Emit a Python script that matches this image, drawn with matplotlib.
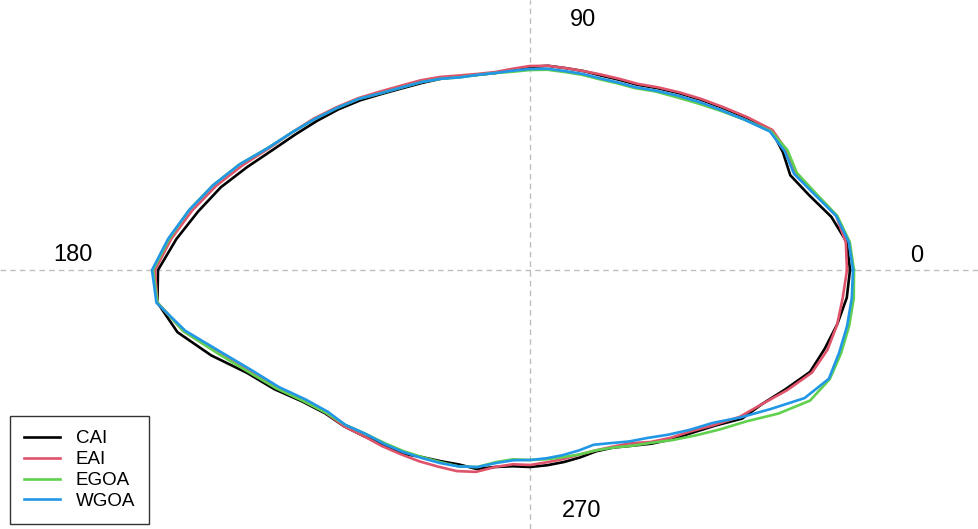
import numpy as np
import matplotlib.pyplot as plt

# mean otolith outlines: radius at every 5 degrees
angles = np.arange(0, 360, 5)

cai = [320, 318, 306, 289, 277, 279, 279, 265, 252, 241, 231, 222, 214, 210, 207, 206, 205, 205,
       203, 201, 200, 202, 206, 211, 216, 222, 230, 240, 250, 260, 271, 284, 301, 320, 337, 355,
       372, 374, 358, 330, 301, 282, 263, 250, 243, 235, 228, 224, 216, 211, 207, 206, 200, 197,
       197, 196, 195, 194, 193, 196, 203, 212, 221, 230, 242, 259, 268, 282, 298, 305, 312, 318]
eai = [317, 317, 311, 295, 283, 283, 280, 266, 253, 242, 232, 223, 215, 211, 208, 206, 205, 205,
       204, 202, 201, 203, 207, 213, 219, 225, 233, 243, 253, 264, 275, 288, 306, 325, 343, 360,
       375, 374, 352, 322, 298, 279, 261, 249, 243, 235, 230, 225, 221, 217, 214, 209, 200, 195,
       195, 193, 192, 191, 192, 195, 200, 210, 219, 228, 241, 256, 268, 284, 300, 308, 312, 314]
egoa = [324, 321, 312, 296, 284, 284, 278, 262, 248, 236, 226, 218, 210, 206, 203, 202, 201, 201,
        200, 199, 200, 202, 205, 211, 217, 223, 231, 242, 252, 263, 275, 289, 309, 328, 346, 362,
        377, 374, 352, 323, 299, 280, 262, 249, 241, 232, 226, 221, 216, 212, 209, 204, 195, 190,
        190, 190, 190, 191, 192, 196, 203, 211, 222, 234, 248, 264, 287, 309, 319, 322, 324, 325]
wgoa = [323, 320, 311, 294, 281, 281, 277, 262, 249, 238, 228, 219, 211, 207, 204, 203, 202, 202,
        201, 200, 200, 202, 205, 211, 217, 223, 231, 242, 252, 263, 275, 289, 309, 328, 346, 363,
        378, 375, 350, 319, 295, 277, 259, 247, 241, 232, 227, 222, 217, 213, 209, 204, 196, 191,
        190, 189, 188, 187, 186, 191, 198, 205, 215, 226, 238, 257, 278, 303, 318, 320, 322, 323]

names = ["CAI", "EAI", "EGOA", "WGOA"]
colors = ["#000000", "#DF536B", "#61D04F", "#2297E6"]

fig = plt.figure(figsize=(9.79, 5.29), dpi=100)
ax = fig.add_axes([0, 0, 1, 1])
ax.set_xlim(-530, 449)
ax.set_ylim(-259, 270)
ax.axis("off")

ax.axhline(0, color="#BEBEBE", linestyle=(0, (4, 3)), linewidth=1)
ax.axvline(0, color="#BEBEBE", linestyle=(0, (4, 3)), linewidth=1)

th = np.deg2rad(angles)
for r, name, col in zip([cai, eai, egoa, wgoa], names, colors):
    r = np.array(r, dtype=float)
    x = np.append(r * np.cos(th), r[0])
    y = np.append(r * np.sin(th), 0)
    ax.plot(x, y, color=col, linewidth=1.9, label=name, solid_joinstyle="round")

font = "Liberation Sans"
ax.text(53, 250, "90", ha="center", va="center", fontsize=17, family=font)
ax.text(-457, 15, "180", ha="center", va="center", fontsize=17, family=font)
ax.text(387, 14, "0", ha="center", va="center", fontsize=17, family=font)
ax.text(52, -241, "270", ha="center", va="center", fontsize=17, family=font)

leg = ax.legend(loc="lower left", bbox_to_anchor=(10 / 979, 5 / 529),
                bbox_transform=fig.transFigure, borderaxespad=0, fancybox=False,
                edgecolor="black", prop={"family": font, "size": 13.5},
                handlelength=1.9, labelspacing=0.2, borderpad=0.75, handletextpad=0.85)
leg.get_frame().set_linewidth(1.0)

fig.savefig("out.png", dpi=100)
